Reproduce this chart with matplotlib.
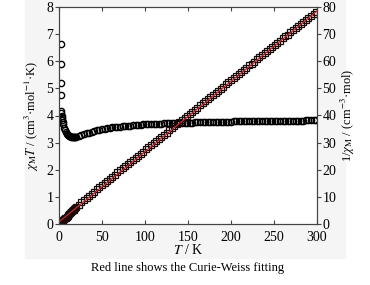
import numpy as np
import matplotlib
matplotlib.use('Agg')
import matplotlib.pyplot as plt
from matplotlib.patches import Rectangle

plt.rcParams['font.family'] = ['Liberation Serif', 'DejaVu Serif']
plt.rcParams['mathtext.fontset'] = 'stix'

# chi_M*T data (cm3 mol-1 K)
T_low = [1.8, 1.9, 2.0, 2.1, 2.3, 2.6, 3.0, 3.5, 4.0, 4.5, 5.0, 6.0, 7.0,
         8.0, 9.0, 10, 11, 12, 13, 14, 15, 16, 17, 18, 19]
chiT_low = [6.62, 5.90, 5.20, 4.75, 4.15, 4.10, 4.00, 3.92, 3.84, 3.76, 3.68,
            3.55, 3.45, 3.38, 3.33, 3.29, 3.27, 3.25, 3.23, 3.22, 3.21, 3.20,
            3.20, 3.20, 3.20]

T_high = [20, 23, 26, 29, 32, 35, 38, 41, 44, 47, 50, 53, 56, 59, 62, 65, 68,
          71, 74, 77, 80, 83, 86, 89, 92, 95, 98, 101, 104, 107, 110, 113,
          116, 119, 122, 125, 128, 131, 134, 137, 140, 143, 146, 149, 152,
          155, 158, 161, 164, 167, 170, 173, 176, 179, 182, 185, 188, 191,
          194, 197, 200, 203, 206, 209, 212, 215, 218, 221, 224, 227, 230,
          233, 236, 239, 242, 245, 248, 251, 254, 257, 260, 263, 266, 269,
          272, 275, 278, 281, 284, 287, 290, 293, 296, 299]
chiT_high = [3.21, 3.24, 3.28, 3.31, 3.34, 3.37, 3.40, 3.43, 3.45, 3.48, 3.50,
             3.51, 3.53, 3.54, 3.56, 3.57, 3.58, 3.59, 3.60, 3.61, 3.62, 3.63,
             3.64, 3.65, 3.65, 3.66, 3.67, 3.67, 3.68, 3.68, 3.69, 3.69, 3.70,
             3.70, 3.71, 3.71, 3.71, 3.72, 3.72, 3.73, 3.73, 3.73, 3.74, 3.74,
             3.74, 3.74, 3.75, 3.75, 3.75, 3.75, 3.76, 3.76, 3.76, 3.76, 3.76,
             3.77, 3.77, 3.77, 3.77, 3.77, 3.77, 3.78, 3.78, 3.78, 3.78, 3.78,
             3.78, 3.78, 3.79, 3.79, 3.79, 3.79, 3.79, 3.79, 3.79, 3.80, 3.80,
             3.80, 3.80, 3.80, 3.80, 3.80, 3.81, 3.81, 3.81, 3.81, 3.81, 3.81,
             3.81, 3.82, 3.82, 3.82, 3.82, 3.82]

# Curie-Weiss fit parameters
C_fit = 3.86
theta_fit = -3.0
T_fit = [0, 300]

T = np.array(T_low + T_high)
chiT = np.array(chiT_low + chiT_high)
inv_chi = T / chiT
inv_fit = (np.array(T_fit) - theta_fit) / C_fit

fig = plt.figure(figsize=(3.7, 2.85), dpi=100)
fig.patches.append(Rectangle((25 / 370, 1 - 258 / 285), 320 / 370, 258 / 285,
                             transform=fig.transFigure, color='#f5f5f5',
                             zorder=-1))
ax = fig.add_axes([59 / 370, 1 - 224 / 285, 258 / 370, 217 / 285])
ax2 = ax.twinx()

ax.plot(T, chiT, 'o', mfc='none', mec='black', ms=4.5, mew=1.0)
ax2.plot(T, inv_chi, 's', mfc='none', mec='#1a0a0a', ms=4.3, mew=0.9)
ax2.plot(T_fit, inv_fit, color='#c0282a', lw=0.9, zorder=3)

ax.set_xlim(0, 300)
ax.set_ylim(0, 8)
ax2.set_ylim(0, 80)
ax.set_xticks([0, 50, 100, 150, 200, 250, 300])
ax.set_yticks(range(0, 9))
ax2.set_yticks(range(0, 81, 10))

for a in (ax, ax2):
    for s in a.spines.values():
        s.set_color('#444444')
        s.set_linewidth(0.8)
ax.tick_params(axis='x', direction='in', top=True, length=3, labelsize=10,
               pad=5, color='#444444')
ax.tick_params(axis='y', direction='out', length=3, labelsize=10, pad=1,
               color='#444444')
ax2.tick_params(axis='y', direction='out', length=3, labelsize=10, pad=1,
                color='#444444')

ax.set_xlabel('$T$ / K', fontsize=10, labelpad=-1)
ax.set_ylabel(r'$\chi_{\rm M}T$ / (cm$^3$·mol$^{-1}$·K)', fontsize=9,
              labelpad=4)
ax2.set_ylabel(r'1/$\chi_{\rm M}$ / (cm$^{-3}$·mol)', fontsize=9, labelpad=2)

fig.text(188 / 370, 1 - 268 / 285, 'Red line shows the Curie-Weiss fitting',
         ha='center', va='center', fontsize=9)

fig.savefig('out.png', dpi=100)
